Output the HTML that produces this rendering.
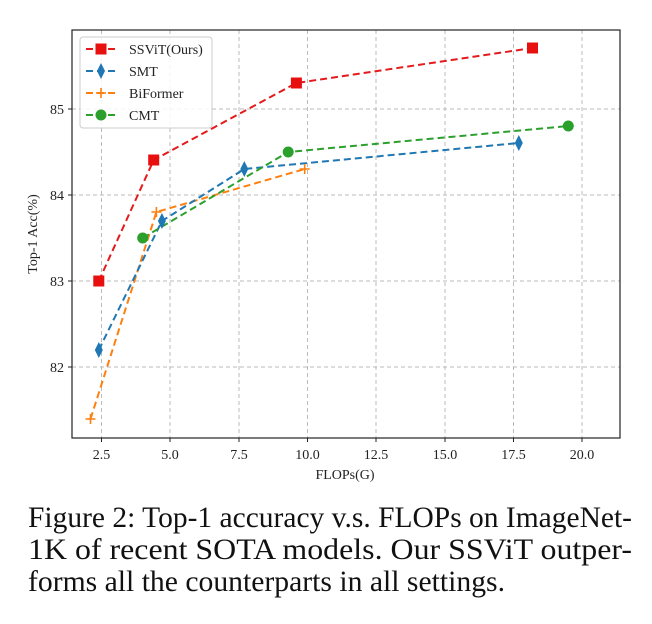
<!DOCTYPE html>
<html><head><meta charset="utf-8"><style>body{margin:0;background:#fff}svg{display:block}</style></head><body>
<svg width="652" height="624" xmlns="http://www.w3.org/2000/svg" font-family="Liberation Serif, serif">
<g stroke="#bbb" stroke-dasharray="4,3" stroke-width="1">
<line x1="101.5" y1="30" x2="101.5" y2="438"/><line x1="170" y1="30" x2="170" y2="438"/><line x1="239" y1="30" x2="239" y2="438"/><line x1="307.5" y1="30" x2="307.5" y2="438"/><line x1="376" y1="30" x2="376" y2="438"/><line x1="445" y1="30" x2="445" y2="438"/><line x1="513.5" y1="30" x2="513.5" y2="438"/><line x1="582" y1="30" x2="582" y2="438"/>
<line x1="72" y1="109" x2="620" y2="109"/><line x1="72" y1="195" x2="620" y2="195"/><line x1="72" y1="281" x2="620" y2="281"/><line x1="72" y1="367" x2="620" y2="367"/>
</g>
<rect x="72" y="30" width="548" height="408" fill="none" stroke="#222" stroke-width="1.2"/>
<g stroke="#222"><line x1="101.5" y1="438" x2="101.5" y2="442"/><line x1="170" y1="438" x2="170" y2="442"/><line x1="239" y1="438" x2="239" y2="442"/><line x1="307.5" y1="438" x2="307.5" y2="442"/><line x1="376" y1="438" x2="376" y2="442"/><line x1="445" y1="438" x2="445" y2="442"/><line x1="513.5" y1="438" x2="513.5" y2="442"/><line x1="582" y1="438" x2="582" y2="442"/>
<line x1="68" y1="109" x2="72" y2="109"/><line x1="68" y1="195" x2="72" y2="195"/><line x1="68" y1="281" x2="72" y2="281"/><line x1="68" y1="367" x2="72" y2="367"/></g>
<g font-size="14" fill="#222" text-anchor="middle">
<text x="101.5" y="459">2.5</text><text x="170" y="459">5.0</text><text x="239" y="459">7.5</text><text x="307.5" y="459">10.0</text><text x="376" y="459">12.5</text><text x="445" y="459">15.0</text><text x="513.5" y="459">17.5</text><text x="582" y="459">20.0</text>
<text x="345" y="479">FLOPs(G)</text>
<text x="64" y="114" text-anchor="end">85</text><text x="64" y="200" text-anchor="end">84</text><text x="64" y="286" text-anchor="end">83</text><text x="64" y="372" text-anchor="end">82</text>
<text transform="translate(37,234) rotate(-90)">Top-1 Acc(%)</text>
</g>
<g fill="none" stroke-width="2" stroke-dasharray="7,4">
<polyline stroke="#ff7f0e" points="90.5,419 156.4,212 304.7,169"/>
<polyline stroke="#1f77b4" points="98.8,350 161.9,221 244.3,169 518.8,143"/>
<polyline stroke="#2ca02c" points="142.7,238 288.2,152 568.3,126"/>
<polyline stroke="#e41a1c" points="98.8,281 153.7,160 296.4,83 532.5,48"/>
</g>
<g fill="#e80f0f"><rect x="93.3" y="275.5" width="11" height="11"/><rect x="148.2" y="154.5" width="11" height="11"/><rect x="290.9" y="77.5" width="11" height="11"/><rect x="527" y="42.5" width="11" height="11"/></g>
<g fill="#1f77b4"><path d="M98.8,342 l4,8 l-4,8 l-4,-8z"/><path d="M161.9,213 l4,8 l-4,8 l-4,-8z"/><path d="M244.3,161 l4,8 l-4,8 l-4,-8z"/><path d="M518.8,135 l4,8 l-4,8 l-4,-8z"/></g>
<g stroke="#ff7f0e" stroke-width="1.6"><path d="M85.5,419h10M90.5,414v10M151.4,212h10M156.4,207v10M299.7,169h10M304.7,164v10"/></g>
<g fill="#2ca02c"><circle cx="142.7" cy="238" r="5.5"/><circle cx="288.2" cy="152" r="5.5"/><circle cx="568.3" cy="126" r="5.5"/></g>
<rect x="80" y="37" width="132" height="91" rx="3" fill="#fff" fill-opacity="0.85" stroke="#ccc"/>
<g stroke-width="2" stroke-dasharray="7,4" fill="none">
<line x1="86" y1="49" x2="116" y2="49" stroke="#e41a1c"/><line x1="86" y1="71" x2="116" y2="71" stroke="#1f77b4"/><line x1="86" y1="93" x2="116" y2="93" stroke="#ff7f0e"/><line x1="86" y1="115" x2="116" y2="115" stroke="#2ca02c"/></g>
<rect x="95.5" y="43.5" width="11" height="11" fill="#e80f0f"/>
<path d="M101,63 l4,8 l-4,8 l-4,-8z" fill="#1f77b4"/>
<path d="M96,93h10M101,88v10" stroke="#ff7f0e" stroke-width="1.6"/>
<circle cx="101" cy="115" r="5.5" fill="#2ca02c"/>
<g font-size="14" fill="#222"><text x="129" y="54">SSViT(Ours)</text><text x="129" y="76">SMT</text><text x="129" y="98">BiFormer</text><text x="129" y="120">CMT</text></g>
<g font-size="29.5" fill="#111">
<text x="28" y="527" textLength="604" lengthAdjust="spacingAndGlyphs">Figure 2: Top-1 accuracy v.s. FLOPs on ImageNet-</text>
<text x="28" y="559" textLength="604" lengthAdjust="spacingAndGlyphs">1K of recent SOTA models.  Our SSViT outper-</text>
<text x="28" y="591" textLength="477" lengthAdjust="spacingAndGlyphs">forms all the counterparts in all settings.</text>
</g>
</svg>
</body></html>
